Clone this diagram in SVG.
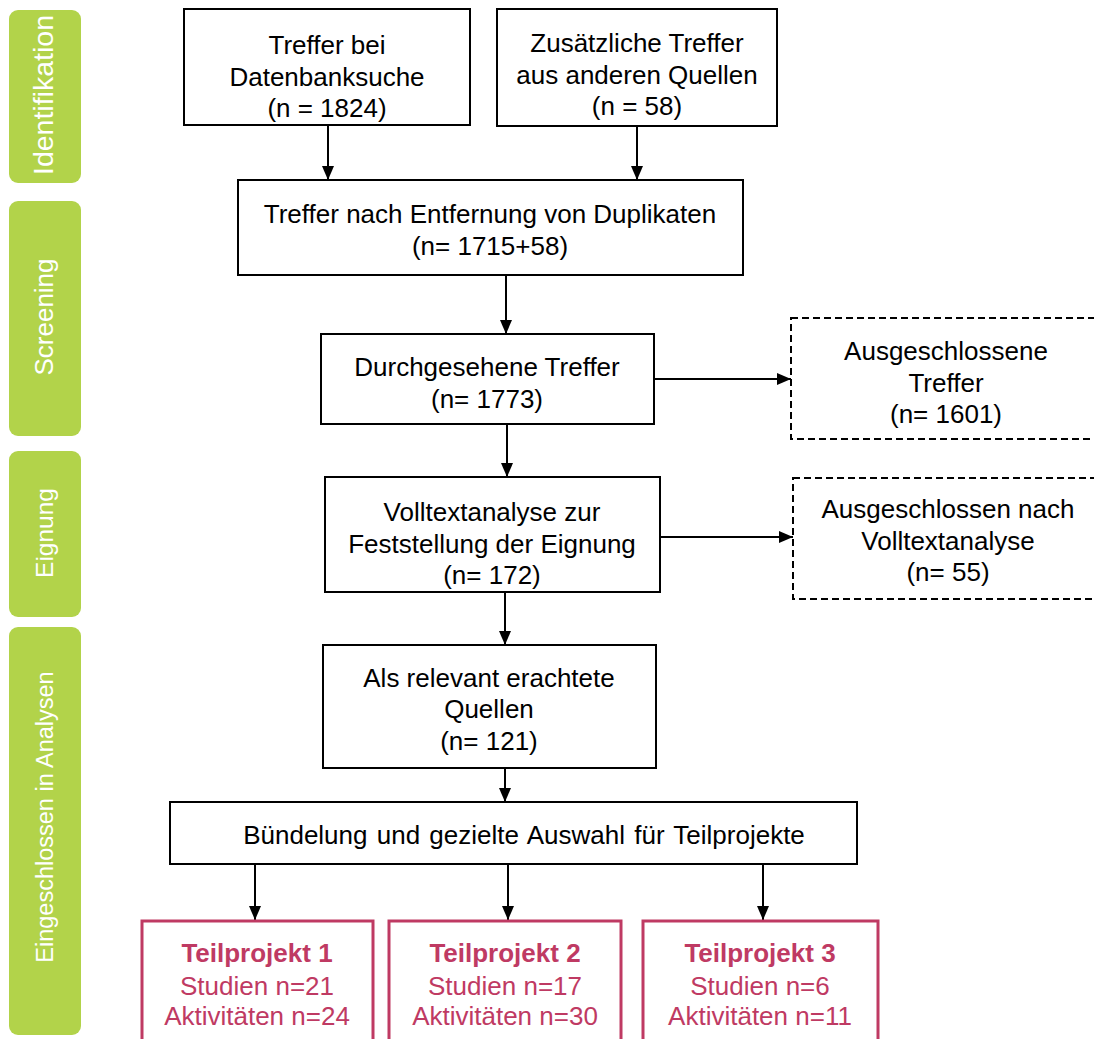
<svg xmlns="http://www.w3.org/2000/svg" width="1094" height="1039" viewBox="0 0 1094 1039">
<style>
.bar{fill:#b2d34a}
.bl{fill:#ffffff;font-family:"Liberation Sans",Arial,sans-serif;text-anchor:middle}
.box{fill:#ffffff;stroke:#000000;stroke-width:2}
.dash{fill:#ffffff;stroke:#000000;stroke-width:2;stroke-dasharray:7 4}
.pk{fill:#ffffff;stroke:#bf3a63;stroke-width:3}
.t{font-family:"Liberation Sans",Arial,sans-serif;font-size:26px;fill:#000000;text-anchor:middle}
.tp{font-family:"Liberation Sans",Arial,sans-serif;font-size:26px;fill:#bf3a63;text-anchor:middle}
.b{font-weight:bold}
.c{stroke:#000000;stroke-width:2;fill:none;marker-end:url(#ah)}
</style>
<defs>
<marker id="ah" markerUnits="userSpaceOnUse" markerWidth="14" markerHeight="12" refX="14" refY="6" orient="auto">
<path d="M0,0 L14,6 L0,12 Z" fill="#000000"/>
</marker>
</defs>
<rect width="1094" height="1039" fill="#ffffff"/>

<g id="phase-identifikation">
<rect class="bar" x="9" y="10" width="72" height="173" rx="9"/>
<text class="bl" font-size="28.5" transform="translate(53,95) rotate(-90)">Identifikation</text>
</g>
<g id="phase-screening">
<rect class="bar" x="9" y="201" width="72" height="235" rx="9"/>
<text class="bl" font-size="26" transform="translate(53,317) rotate(-90)">Screening</text>
</g>
<g id="phase-eignung">
<rect class="bar" x="9" y="451" width="72" height="166" rx="9"/>
<text class="bl" font-size="24.5" transform="translate(53,533) rotate(-90)">Eignung</text>
</g>
<g id="phase-eingeschlossen">
<rect class="bar" x="9" y="627" width="72" height="408" rx="9"/>
<text class="bl" font-size="23.5" transform="translate(53,817) rotate(-90)">Eingeschlossen in Analysen</text>
</g>

<g id="connectors">
<line class="c" x1="328" y1="125" x2="328" y2="180"/>
<line class="c" x1="637" y1="126" x2="637" y2="180"/>
<line class="c" x1="506" y1="275" x2="506" y2="334"/>
<line class="c" x1="507" y1="424" x2="507" y2="477"/>
<line class="c" x1="505" y1="592" x2="505" y2="645"/>
<line class="c" x1="505" y1="768" x2="505" y2="802"/>
<line class="c" x1="255" y1="864" x2="255" y2="920"/>
<line class="c" x1="508" y1="864" x2="508" y2="920"/>
<line class="c" x1="763" y1="864" x2="763" y2="920"/>
<line class="c" x1="654" y1="379" x2="791" y2="379"/>
<line class="c" x1="660" y1="537" x2="793" y2="537"/>
</g>

<g id="n-datenbank">
<rect class="box" x="184" y="9" width="286" height="116"/>
<text class="t" x="327" y="54">Treffer bei</text>
<text class="t" x="327" y="86">Datenbanksuche</text>
<text class="t" x="327" y="117">(n = 1824)</text>
</g>
<g id="n-zusaetzlich">
<rect class="box" x="497" y="9" width="280" height="117"/>
<text class="t" x="637" y="52">Zusätzliche Treffer</text>
<text class="t" x="637" y="84">aus anderen Quellen</text>
<text class="t" x="637" y="115">(n = 58)</text>
</g>
<g id="n-duplikate">
<rect class="box" x="238" y="180" width="505" height="95"/>
<text class="t" x="490" y="223">Treffer nach Entfernung von Duplikaten</text>
<text class="t" x="490" y="255">(n= 1715+58)</text>
</g>
<g id="n-durchgesehen">
<rect class="box" x="321" y="334" width="333" height="90"/>
<text class="t" x="487" y="376">Durchgesehene Treffer</text>
<text class="t" x="487" y="408">(n= 1773)</text>
</g>
<g id="n-ausgeschlossen1">
<rect class="dash" x="791" y="318" width="320" height="121"/>
<text class="t" x="946" y="360">Ausgeschlossene</text>
<text class="t" x="946" y="392">Treffer</text>
<text class="t" x="946" y="423">(n= 1601)</text>
</g>
<g id="n-volltext">
<rect class="box" x="325" y="477" width="335" height="115"/>
<text class="t" x="492" y="521">Volltextanalyse zur</text>
<text class="t" x="492" y="553">Feststellung der Eignung</text>
<text class="t" x="492" y="584">(n= 172)</text>
</g>
<g id="n-ausgeschlossen2">
<rect class="dash" x="793" y="478" width="320" height="121"/>
<text class="t" x="948" y="518">Ausgeschlossen nach</text>
<text class="t" x="948" y="550">Volltextanalyse</text>
<text class="t" x="948" y="581">(n= 55)</text>
</g>
<g id="n-relevant">
<rect class="box" x="323" y="645" width="333" height="123"/>
<text class="t" x="489" y="687">Als relevant erachtete</text>
<text class="t" x="489" y="718">Quellen</text>
<text class="t" x="489" y="750">(n= 121)</text>
</g>
<g id="n-buendelung">
<rect class="box" x="170" y="802" width="687" height="62"/>
<text class="t" x="524" y="844" word-spacing="2">Bündelung und gezielte Auswahl für Teilprojekte</text>
</g>
<g id="n-tp1">
<rect class="pk" x="142" y="921" width="231" height="130"/>
<text class="tp b" x="257" y="962">Teilprojekt 1</text>
<text class="tp" x="257" y="995">Studien n=21</text>
<text class="tp" x="257" y="1025">Aktivitäten n=24</text>
</g>
<g id="n-tp2">
<rect class="pk" x="389" y="921" width="232" height="130"/>
<text class="tp b" x="505" y="962">Teilprojekt 2</text>
<text class="tp" x="505" y="995">Studien n=17</text>
<text class="tp" x="505" y="1025">Aktivitäten n=30</text>
</g>
<g id="n-tp3">
<rect class="pk" x="643" y="921" width="235" height="130"/>
<text class="tp b" x="760" y="962">Teilprojekt 3</text>
<text class="tp" x="760" y="995">Studien n=6</text>
<text class="tp" x="760" y="1025">Aktivitäten n=11</text>
</g>
</svg>
